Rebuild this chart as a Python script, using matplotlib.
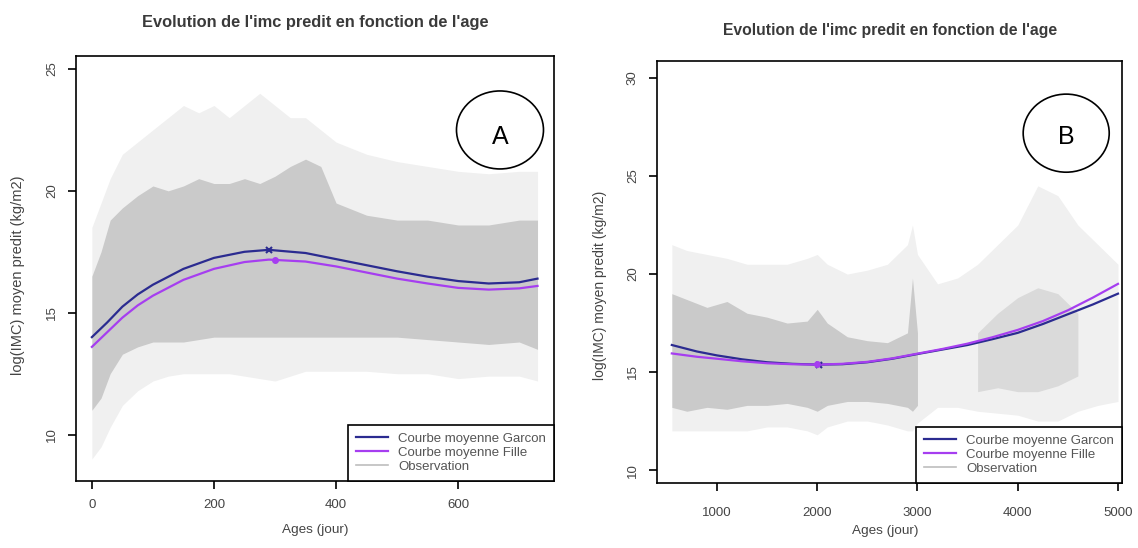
import matplotlib
matplotlib.use("Agg")
import matplotlib.pyplot as plt
from matplotlib.patches import Ellipse
import numpy as np

plt.rcParams['font.family'] = ['Liberation Sans', 'DejaVu Sans']

# ---- panel A : 0 - 730 jours ----
ages_a = [0, 25, 50, 75, 100, 150, 200, 250, 290, 350, 400, 450, 500, 550, 600, 650, 700, 730]
garcon_a = [14.0, 14.6, 15.25, 15.75, 16.15, 16.8, 17.25, 17.5, 17.58, 17.45, 17.2, 16.95, 16.7, 16.48, 16.3, 16.2, 16.25, 16.4]
fille_a = [13.6, 14.2, 14.8, 15.3, 15.7, 16.35, 16.8, 17.08, 17.18, 17.1, 16.9, 16.65, 16.4, 16.2, 16.02, 15.95, 16.0, 16.1]
mark_a = [(290, 17.58), (300, 17.18)]

# observation cloud, read as envelopes (dense core / sparse outer)
obs_ages_a = [0, 15, 30, 50, 75, 100, 125, 150, 175, 200, 225, 250, 275, 300, 325, 350, 375, 400, 450, 500, 550, 600, 650, 700, 730]
core_hi_a = [16.5, 17.5, 18.8, 19.3, 19.8, 20.2, 20.0, 20.2, 20.5, 20.3, 20.3, 20.5, 20.3, 20.6, 21.0, 21.3, 21.0, 19.5, 19.0, 18.8, 18.8, 18.6, 18.6, 18.8, 18.8]
core_lo_a = [11.0, 11.5, 12.5, 13.3, 13.6, 13.8, 13.8, 13.8, 13.9, 14.0, 14.0, 14.0, 14.0, 14.0, 14.0, 14.0, 14.0, 14.0, 14.0, 14.0, 13.9, 13.8, 13.7, 13.8, 13.5]
outer_hi_a = [18.5, 19.5, 20.5, 21.5, 22.0, 22.5, 23.0, 23.5, 23.2, 23.5, 23.0, 23.5, 24.0, 23.5, 23.0, 23.0, 22.5, 22.0, 21.5, 21.2, 21.0, 20.8, 20.7, 20.8, 20.8]
outer_lo_a = [9.0, 9.5, 10.3, 11.2, 11.8, 12.2, 12.4, 12.5, 12.5, 12.5, 12.5, 12.4, 12.3, 12.2, 12.4, 12.6, 12.6, 12.6, 12.6, 12.5, 12.5, 12.3, 12.4, 12.4, 12.2]

# ---- panel B : 550 - 5000 jours ----
ages_b = [550, 800, 1000, 1250, 1500, 1750, 2000, 2250, 2500, 2750, 3000, 3250, 3500, 3750, 4000, 4250, 4500, 4750, 5000]
garcon_b = [16.38, 16.05, 15.85, 15.65, 15.5, 15.42, 15.38, 15.4, 15.5, 15.68, 15.92, 16.15, 16.38, 16.68, 17.0, 17.45, 17.95, 18.45, 19.0]
fille_b = [15.95, 15.78, 15.68, 15.55, 15.45, 15.4, 15.38, 15.42, 15.52, 15.7, 15.94, 16.18, 16.45, 16.78, 17.15, 17.6, 18.15, 18.8, 19.5]
mark_b = [(2020, 15.38), (2000, 15.4)]

nan = np.nan
obs_ages_b = [550, 700, 900, 1100, 1300, 1500, 1700, 1900, 2000, 2100, 2300, 2500, 2700, 2900, 2950, 3000, 3200, 3400, 3600, 3800, 4000, 4200, 4400, 4600, 4800, 5000]
core_hi_b = [19.0, 18.7, 18.3, 18.6, 18.0, 17.8, 17.5, 17.6, 18.2, 17.5, 16.8, 16.6, 16.5, 17.0, 19.8, 17.0, nan, nan, nan, nan, nan, nan, nan, nan, nan, nan]
core_lo_b = [13.2, 13.0, 13.2, 13.1, 13.3, 13.3, 13.4, 13.2, 13.0, 13.3, 13.5, 13.5, 13.4, 13.2, 13.0, 13.3, nan, nan, nan, nan, nan, nan, nan, nan, nan, nan]
mid_hi_b = [nan] * 17 + [nan, 17.0, 18.0, 18.8, 19.3, 19.0, 18.0, nan, nan]
mid_lo_b = [nan] * 17 + [nan, 14.0, 14.2, 14.0, 14.0, 14.3, 14.8, nan, nan]
outer_hi_b = [21.5, 21.2, 21.0, 20.8, 20.5, 20.5, 20.5, 20.8, 21.0, 20.5, 20.0, 20.2, 20.5, 21.5, 22.5, 21.0, 19.5, 19.8, 20.5, 21.5, 22.5, 24.5, 24.0, 22.5, 21.5, 20.5]
outer_lo_b = [12.0, 12.0, 12.0, 12.0, 12.0, 12.2, 12.2, 12.0, 11.8, 12.2, 12.5, 12.5, 12.3, 12.0, 12.0, 12.4, 13.2, 13.2, 13.0, 12.9, 12.8, 12.5, 12.5, 13.0, 13.3, 13.5]

col_garcon = '#2b2b90'
col_fille = '#a63ef0'
col_obs = '#bebebe'
txt_col = '#444444'

fig = plt.figure(figsize=(11.38, 5.48), dpi=100)
W, H = 1138.0, 548.0


def px_axes(l, r, t, b):
    return fig.add_axes([l / W, (H - b) / H, (r - l) / W, (b - t) / H])


def style(ax, xticks, yticks, xpad=7):
    ax.set_xticks(xticks)
    ax.set_yticks(yticks)
    ax.tick_params(direction='out', length=6, width=1.2, pad=7, labelsize=9.5, colors='black', labelcolor=txt_col)
    ax.tick_params(axis='x', pad=xpad)
    for lab in ax.get_yticklabels():
        lab.set_rotation(90)
        lab.set_va('center')
    for s in ax.spines.values():
        s.set_linewidth(1.2)


def draw(ax, ages, garcon, fille, marks, oa, outer_lo, outer_hi, core_lo, core_hi, mid=None):
    ax.fill_between(oa, outer_lo, outer_hi, color='#f0f0f0', lw=0, zorder=1)
    if mid is not None:
        ax.fill_between(oa, mid[0], mid[1], color='#dadada', lw=0, zorder=2)
    ax.fill_between(oa, core_lo, core_hi, color='#cacaca', lw=0, zorder=2)
    ax.plot([], [], color=col_obs, lw=1.2, label='Observation')
    ax.plot(ages, garcon, color=col_garcon, lw=1.6, zorder=4, label='Courbe moyenne Garcon')
    ax.plot(ages, fille, color=col_fille, lw=1.6, zorder=4, label='Courbe moyenne Fille')
    ax.plot(marks[0][0], marks[0][1], marker='x', ms=5, mew=1.5, color=col_garcon, zorder=5)
    ax.plot(marks[1][0], marks[1][1], marker='o', ms=4, color=col_fille, zorder=5)
    h, l = ax.get_legend_handles_labels()
    order = [1, 2, 0]
    leg = ax.legend([h[i] for i in order], [l[i] for i in order], loc='lower right', borderaxespad=0,
                    fancybox=False, framealpha=1, edgecolor='black', fontsize=9.5, handlelength=2.4,
                    labelspacing=0.15, borderpad=0.6)
    leg.get_frame().set_linewidth(1.2)
    for t in leg.get_texts():
        t.set_color('#555555')


# panel A
axA = px_axes(76, 554, 56, 481)
draw(axA, ages_a, garcon_a, fille_a, mark_a, obs_ages_a, outer_lo_a, outer_hi_a, core_lo_a, core_hi_a)
axA.set_xlim(-26, 757)
axA.set_ylim(8.1, 25.53)
style(axA, [0, 200, 400, 600], [10, 15, 20, 25])
axA.add_patch(Ellipse((0.887, 0.826), 0.182, 0.1835, transform=axA.transAxes, fill=False, lw=1.2, ec='black', zorder=6))
axA.text(0.887, 0.81, 'A', transform=axA.transAxes, ha='center', va='center', fontsize=18, zorder=6)

# panel B
axB = px_axes(657, 1122, 61, 483)
draw(axB, ages_b, garcon_b, fille_b, mark_b, obs_ages_b, outer_lo_b, outer_hi_b, core_lo_b, core_hi_b,
     mid=(mid_lo_b, mid_hi_b))
axB.set_xlim(402, 5040)
axB.set_ylim(9.34, 30.87)
style(axB, [1000, 2000, 3000, 4000, 5000], [10, 15, 20, 25, 30], xpad=11)
axB.add_patch(Ellipse((0.88, 0.829), 0.185, 0.185, transform=axB.transAxes, fill=False, lw=1.2, ec='black', zorder=6))
axB.text(0.88, 0.82, 'B', transform=axB.transAxes, ha='center', va='center', fontsize=18, zorder=6)

# titles and labels in figure pixels
fig.text(315 / W, 1 - 22 / H, "Evolution de l'imc predit en fonction de l'age", ha='center', va='center',
         fontsize=11.8, fontweight='bold', color='#3a3a3a')
fig.text(890 / W, 1 - 30 / H, "Evolution de l'imc predit en fonction de l'age", ha='center', va='center',
         fontsize=11.3, fontweight='bold', color='#3a3a3a')
fig.text(315 / W, 1 - 530 / H, 'Ages (jour)', ha='center', va='center', fontsize=9.7, color=txt_col)
fig.text(885 / W, 1 - 531 / H, 'Ages (jour)', ha='center', va='center', fontsize=9.7, color=txt_col)
fig.text(18 / W, 1 - 275 / H, 'log(IMC) moyen predit (kg/m2)', rotation=90, ha='center', va='center', fontsize=10.5, color=txt_col)
fig.text(600 / W, 1 - 285 / H, 'log(IMC) moyen predit (kg/m2)', rotation=90, ha='center', va='center', fontsize=10, color=txt_col)

fig.savefig('out.png', dpi=100)
